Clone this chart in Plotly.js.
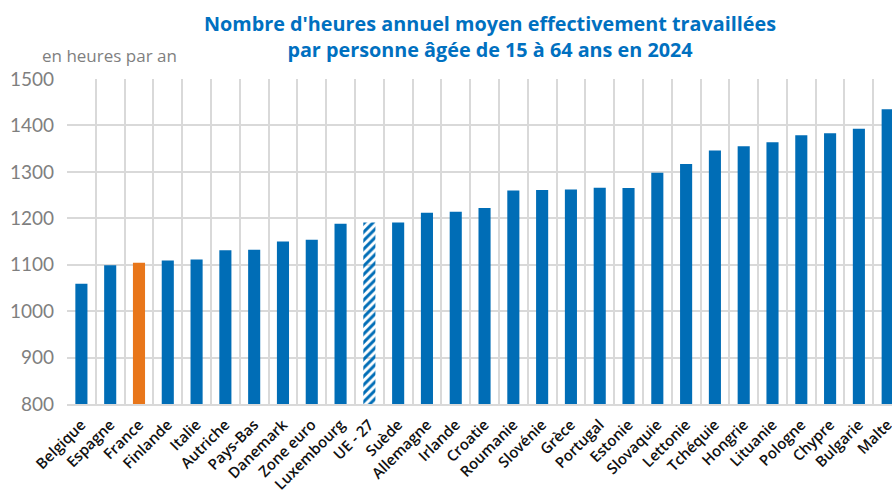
<!DOCTYPE html>
<html>
<head>
<meta charset="utf-8">
<script src="https://cdn.plot.ly/plotly-3.0.1.min.js"></script>
<style>
  html, body { margin: 0; padding: 0; background: #fff; overflow: hidden; }
  #chart { width: 892px; height: 490px; }
</style>
</head>
<body>
<div id="chart"></div>
<script>
const pays = [
  'Belgique', 'Espagne', 'France', 'Finlande', 'Italie', 'Autriche', 'Pays-Bas',
  'Danemark', 'Zone euro', 'Luxembourg', 'UE - 27', 'Suède', 'Allemagne', 'Irlande',
  'Croatie', 'Roumanie', 'Slovénie', 'Grèce', 'Portugal', 'Estonie', 'Slovaquie',
  'Lettonie', 'Tchéquie', 'Hongrie', 'Lituanie', 'Pologne', 'Chypre', 'Bulgarie', 'Malte',
];
const heures = [
  1059, 1099, 1104, 1109, 1111, 1131, 1132,
  1150, 1154, 1188, 1191, 1191, 1212, 1214,
  1222, 1260, 1261, 1262, 1266, 1265, 1298,
  1317, 1346, 1355, 1364, 1379, 1383, 1393, 1435,
];
const yTicks = [800, 900, 1000, 1100, 1200, 1300, 1400, 1500];

const bleu = '#006db6';
const orange = '#e8761a';
const grille = '#d9d9d9';

const trace = {
  x: pays,
  y: heures,
  type: 'bar',
  marker: {
    color: pays.map((p) => (p === 'France' ? orange : bleu)),
    line: { width: 0 },
    pattern: {
      shape: pays.map((p) => (p === 'UE - 27' ? '/' : '')),
      size: 6,
      solidity: 0.5,
      fillmode: 'replace',
    },
  },
  hoverinfo: 'x+y',
};

const layout = {
  width: 892,
  height: 490,
  margin: { l: 67, r: 0, t: 79, b: 86 },
  paper_bgcolor: '#fff',
  plot_bgcolor: '#fff',
  font: { family: '"Open Sans", Lato, Arial, sans-serif' },
  bargap: 0.58,
  showlegend: false,
  xaxis: {
    type: 'category',
    range: [-0.5, 28.15],
    tickson: 'boundaries',
    showgrid: true,
    gridcolor: grille,
    gridwidth: 2,
    ticks: '',
    tickangle: -45,
    ticklabelstandoff: 4,
    tickfont: { size: 15, color: '#111111', weight: 600 },
    showline: true,
    linecolor: grille,
    linewidth: 2,
    fixedrange: true,
  },
  yaxis: {
    range: [800, 1500],
    tickvals: yTicks,
    ticktext: yTicks.map(String),
    showgrid: true,
    gridcolor: grille,
    gridwidth: 2,
    zeroline: false,
    ticks: '',
    ticklabelstandoff: 12,
    tickfont: { family: 'Lato, Arial, sans-serif', size: 19, color: '#7f7f7f' },
    fixedrange: true,
  },
  annotations: [
    {
      text: 'Nombre d\'heures annuel moyen effectivement travaillées<br>par personne âgée de 15 à 64 ans en 2024',
      xref: 'paper', yref: 'paper',
      x: 0.5127, y: 1.218,
      xanchor: 'center', yanchor: 'top',
      showarrow: false,
      font: { size: 19.8, color: '#0070c0', weight: 'bold' },
    },
    {
      text: 'en heures par an',
      xref: 'paper', yref: 'paper',
      x: -0.033, y: 1.03,
      xanchor: 'left', yanchor: 'bottom',
      showarrow: false,
      font: { size: 17, color: '#7f7f7f' },
    },
  ],
};

Plotly.newPlot('chart', [trace], layout, { displayModeBar: false, staticPlot: true });
</script>
</body>
</html>
